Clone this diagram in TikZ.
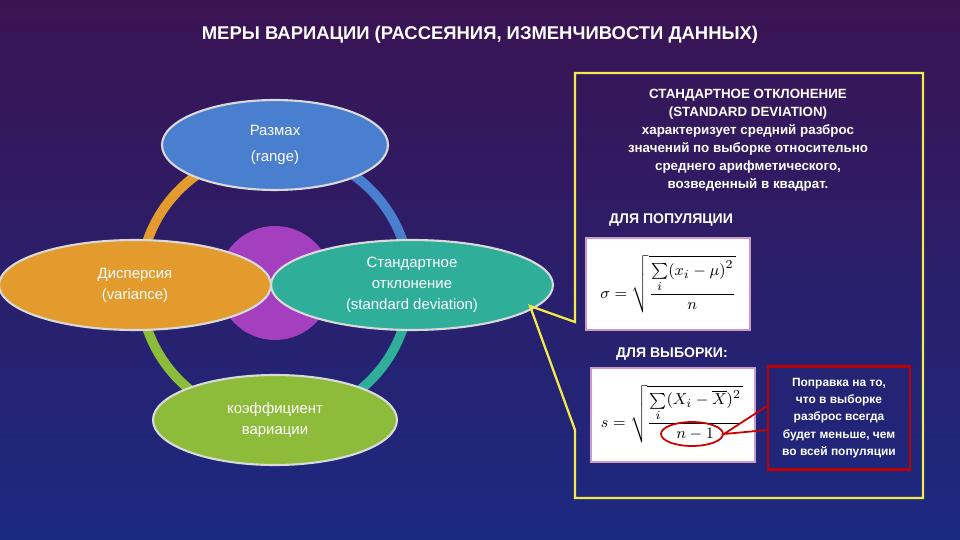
\documentclass[tikz,border=0pt]{standalone}
\usepackage{fontspec}
\setmainfont{Liberation Sans}
\usepackage{amsmath}
\usetikzlibrary{shapes.geometric,calc}

\definecolor{bgtop}{HTML}{3B1352}
\definecolor{bgbot}{HTML}{1B2A82}
\definecolor{ringor}{HTML}{E39B2E}
\definecolor{ringbl}{HTML}{4A7FD0}
\definecolor{ringte}{HTML}{2FAE9A}
\definecolor{ringgr}{HTML}{8DBB3A}
\definecolor{blobpu}{HTML}{A43FC0}
\definecolor{calloutye}{HTML}{F2E94A}

\tikzset{
    blob/.style={ellipse, draw=white!85!black, line width=1.2pt, text=white,
        align=center, inner sep=0pt, minimum height=1.8cm, font=\fontsize{8.5}{12}\selectfont},
    headtxt/.style={text=white, font=\bfseries\fontsize{8}{10}\selectfont, align=center},
    fbox/.style={fill=white, draw=violet!40, line width=1pt},
    ringarc/.style={line width=5.5pt}
}

\begin{document}
\begin{tikzpicture}[x=0.02cm, y=-0.02cm]
        \useasboundingbox (0, 0) rectangle (960, 540);
        \shade [top color=bgtop, bottom color=bgbot] (-5, -5) rectangle (965, 545);
        \node (title) [text=white, font=\bfseries\fontsize{10.5}{12}\selectfont] at (480, 35)
            {МЕРЫ ВАРИАЦИИ (РАССЕЯНИЯ, ИЗМЕНЧИВОСТИ ДАННЫХ)};
        % ring
        \draw [ringarc, ringor] (140, 285) arc [start angle=180, end angle=90, radius=2.7cm];
        \draw [ringarc, ringbl] (275, 150) arc [start angle=90, end angle=0, radius=2.7cm];
        \draw [ringarc, ringte] (410, 285) arc [start angle=0, end angle=-90, radius=2.7cm];
        \draw [ringarc, ringgr] (275, 420) arc [start angle=-90, end angle=-180, radius=2.7cm];
        \fill [blobpu] (275, 283) circle [radius=1.14cm];
        % ellipses
        \node (range) [blob, fill=ringbl, minimum width=4.52cm] at (275, 145)
            {Размах\\[3pt](range)};
        \node (var) [blob, fill=ringor, minimum width=5.44cm] at (135, 285)
            {Дисперсия\\(variance)};
        \node (sd) [blob, fill=ringte, minimum width=5.64cm] at (412, 285)
            {Стандартное\\отклонение\\(standard deviation)};
        \node (cv) [blob, fill=ringgr, minimum width=4.88cm] at (275, 420)
            {коэффициент\\вариации};
        % callout frame
        \coordinate (tip) at (530, 306);
        \draw [calloutye, line width=1.3pt] (575, 73) -- (923, 73) -- (923, 498) -- (575, 498)
            -- (575, 430) -- (tip) -- (575, 322) -- cycle;
        \node (sdhead) [text=white, align=center, font=\bfseries\fontsize{7.6}{10.2}\selectfont] at (748, 140)
            {СТАНДАРТНОЕ ОТКЛОНЕНИЕ\\(STANDARD DEVIATION)\\характеризует средний разброс\\значений по выборке относительно\\среднего арифметического,\\возведенный в квадрат.};
        \node (pophead) [headtxt] at (671, 220) {ДЛЯ ПОПУЛЯЦИИ};
        \node (samphead) [headtxt] at (672, 354) {ДЛЯ ВЫБОРКИ:};
        % formulas
        \draw [fbox] (586, 238) rectangle (750, 330);
        \node (popf) at (668, 284) {\fontsize{9.5}{11}\selectfont$\sigma=\sqrt{\dfrac{\sum\limits_{i}(x_i-\mu)^2}{n}}$};
        \draw [fbox] (591, 368) rectangle (755, 462);
        \node (sampf) at (672, 414) {\fontsize{9.5}{11}\selectfont$s=\sqrt{\dfrac{\sum\limits_{i}(X_i-\overline{X})^2}{n-1}}$};
        \node (oval) [ellipse, draw=red!80!black, line width=1pt, minimum width=1.24cm, minimum height=0.48cm] at (692, 434) {};
        % note
        \node (note) [draw=red!75!black, line width=1.2pt, text=white, align=center,
            minimum width=2.84cm, minimum height=2.06cm, inner sep=0pt,
            font=\bfseries\fontsize{6.8}{9.8}\selectfont] at (839, 418)
            {Поправка на то,\\что в выборке\\разброс всегда\\будет меньше, чем\\во всей популяции};
        \draw [red!80!black, line width=1pt] ($(note.west)+(0,-12)$) -- (oval.east) -- ($(note.west)+(0,12)$);
\end{tikzpicture}
\end{document}
